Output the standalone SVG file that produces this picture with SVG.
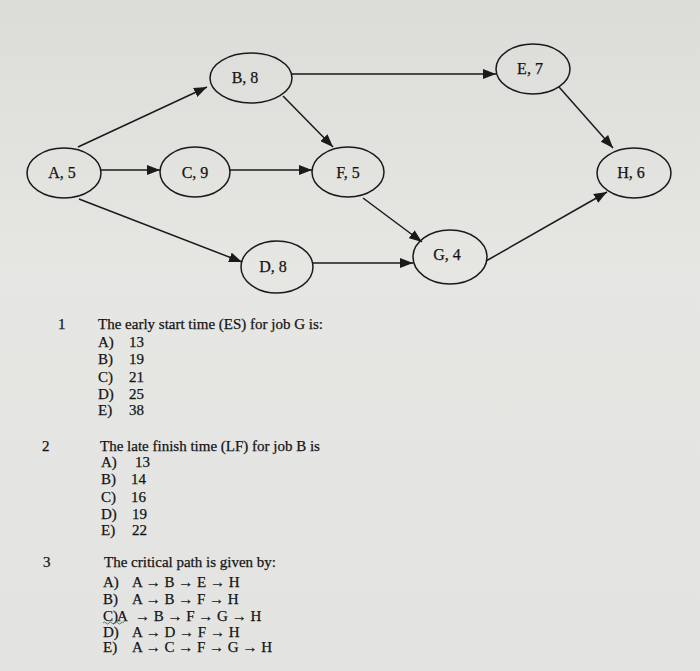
<svg xmlns="http://www.w3.org/2000/svg" width="700" height="671" viewBox="0 0 700 671">
<defs>
<linearGradient id="bg" x1="0" y1="0" x2="0" y2="1">
<stop offset="0" stop-color="#dcdcd8"/>
<stop offset="0.4" stop-color="#e6e6e3"/>
<stop offset="1" stop-color="#e3e4e2"/>
</linearGradient>
<marker id="arr" markerUnits="userSpaceOnUse" markerWidth="14" markerHeight="10" refX="13" refY="5" orient="auto">
<path d="M0,0 L13,5 L0,10 z" fill="#1a1a1a"/>
</marker>
<style>
.node ellipse{fill:none;stroke:#1a1a1a;stroke-width:1.5}
.node text{font-family:"Liberation Serif",serif;font-size:16px;fill:#141414;stroke:#141414;stroke-width:0.25;text-anchor:middle}
#connectors line{stroke:#1a1a1a;stroke-width:1.5;marker-end:url(#arr)}
.q{font-family:"Liberation Serif",serif;font-size:15px;fill:#141414;stroke:#141414;stroke-width:0.25}
</style>
</defs>
<rect width="700" height="671" fill="url(#bg)"/>
<g id="connectors">
<line x1="78" y1="147" x2="207" y2="87"/>
<line x1="101" y1="170" x2="160" y2="170"/>
<line x1="79" y1="199" x2="242" y2="262"/>
<line x1="229" y1="170" x2="312" y2="170"/>
<line x1="283" y1="96" x2="333" y2="147"/>
<line x1="292" y1="74" x2="496" y2="74"/>
<line x1="313" y1="263" x2="413" y2="263"/>
<line x1="363" y1="198" x2="422" y2="242"/>
<line x1="486" y1="261" x2="607" y2="192"/>
<line x1="559" y1="87" x2="613" y2="148"/>
</g>
<g id="nodeA" class="node"><ellipse cx="64" cy="173" rx="37" ry="25"/><text x="62" y="178">A, 5</text></g>
<g id="nodeB" class="node"><ellipse cx="251" cy="78" rx="41" ry="25"/><text x="245" y="83">B, 8</text></g>
<g id="nodeC" class="node"><ellipse cx="195" cy="172" rx="35" ry="25"/><text x="195" y="178">C, 9</text></g>
<g id="nodeD" class="node"><ellipse cx="277" cy="267" rx="36" ry="26"/><text x="273" y="272">D, 8</text></g>
<g id="nodeE" class="node"><ellipse cx="533" cy="69" rx="37" ry="25"/><text x="530" y="74">E, 7</text></g>
<g id="nodeF" class="node"><ellipse cx="348" cy="172" rx="36" ry="25"/><text x="348" y="178">F, 5</text></g>
<g id="nodeG" class="node"><ellipse cx="450" cy="257" rx="37" ry="27"/><text x="447" y="260">G, 4</text></g>
<g id="nodeH" class="node"><ellipse cx="634" cy="173" rx="37" ry="25"/><text x="631" y="178">H, 6</text></g>
<g id="questions" class="q">
<text x="58" y="329">1</text>
<text x="98" y="329">The early start time (ES) for job G is:</text>
<text x="98" y="347">A)</text><text x="129" y="347">13</text>
<text x="98" y="364">B)</text><text x="129" y="364">19</text>
<text x="98" y="382">C)</text><text x="129" y="382">21</text>
<text x="98" y="399">D)</text><text x="129" y="399">25</text>
<text x="98" y="415">E)</text><text x="129" y="415">38</text>
<text x="42" y="451">2</text>
<text x="100" y="451">The late finish time (LF) for job B is</text>
<text x="101" y="467">A)</text><text x="135" y="467">13</text>
<text x="101" y="484">B)</text><text x="131" y="484">14</text>
<text x="101" y="502">C)</text><text x="131" y="502">16</text>
<text x="101" y="519">D)</text><text x="132" y="519">19</text>
<text x="101" y="535">E)</text><text x="132" y="535">22</text>
<text x="43" y="567">3</text>
<text x="104" y="567">The critical path is given by:</text>
<text x="103" y="587">A)</text><text x="132" y="587">A → B → E → H</text>
<text x="103" y="604">B)</text><text x="132" y="604">A → B → F → H</text>
<text x="103" y="621">C)</text><text x="117" y="621">A</text><text x="135" y="621">→ B → F → G → H</text>
<text x="103" y="637">D)</text><text x="132" y="637">A → D → F → H</text>
<text x="103" y="652">E)</text><text x="132" y="652">A → C → F → G → H</text>
</g>
<path d="M103,623 q1.5,-2 3,0 t3,0 t3,0 t3,0 t3,0 t3,0 t3,0" fill="none" stroke="#3f8a3a" stroke-width="1"/>
</svg>
